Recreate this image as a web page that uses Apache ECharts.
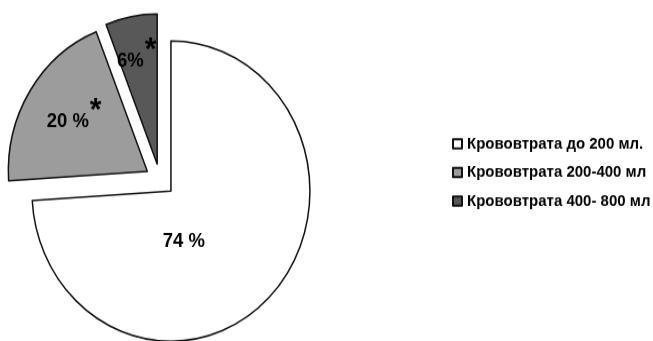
<!DOCTYPE html>
<html>
<head>
<meta charset="utf-8">
<script src="https://cdn.jsdelivr.net/npm/echarts@6/dist/echarts.min.js"></script>
<style>
  html, body { margin: 0; padding: 0; background: #fff; overflow: hidden; }
  #chart { width: 653px; height: 341px; transform: scaleY(1.08); transform-origin: 0 180px; }
</style>
</head>
<body>
<div id="chart"></div>
<script>
// Blood loss groups and their shares, %
const categories = ['Крововтрата до 200 мл.', 'Крововтрата 200-400 мл', 'Крововтрата 400- 800 мл'];
const shares = [74, 20, 6];
const marks = ['', '*', '*'];
const gaps = [' ', ' ', ''];
const fills = ['#ffffff', '#9c9c9c', '#585858'];

// nudges of the percentage labels from their default inside spot
const labelShift = [[-40, -3], [-12, -7], [-7, -24]];

const chart = echarts.init(document.getElementById('chart'), null, { renderer: 'canvas' });

chart.setOption({
  animation: false,
  backgroundColor: '#ffffff',
  legend: {
    orient: 'vertical',
    left: 447,
    top: 134,
    itemWidth: 9,
    itemHeight: 8.5,
    itemGap: 11.5,
    icon: 'rect',
    selectedMode: false,
    textStyle: {
      fontFamily: 'Liberation Sans',
      fontWeight: 'bold',
      fontSize: 15,
      lineHeight: 15,
      color: '#000'
    },
    data: categories
  },
  series: [{
    type: 'pie',
    center: [160, 180],
    radius: 139,
    startAngle: 90,
    clockwise: true,
    selectedMode: 'multiple',
    selectedOffset: 15,
    silent: true,
    emphasis: { disabled: true, scale: false },
    itemStyle: { borderColor: '#111', borderWidth: 1.5 },
    label: {
      show: true,
      position: 'inside',
      formatter: p => '{v|' + p.value + gaps[p.dataIndex] + '%}' +
        (marks[p.dataIndex] ? '{s|' + marks[p.dataIndex] + '}' : ''),
      rich: {
        v: { fontFamily: 'Liberation Sans', fontWeight: 'bold', fontSize: 18.5, color: '#000' },
        s: { fontFamily: 'Liberation Sans', fontWeight: 'bold', fontSize: 30, color: '#000', padding: [0, 0, 20, 1] }
      }
    },
    labelLine: { show: false },
    labelLayout: p => ({ dx: labelShift[p.dataIndex][0], dy: labelShift[p.dataIndex][1] }),
    data: categories.map((name, i) => ({
      name: name,
      value: shares[i],
      selected: true,
      itemStyle: { color: fills[i] }
    }))
  }]
});
</script>
</body>
</html>
